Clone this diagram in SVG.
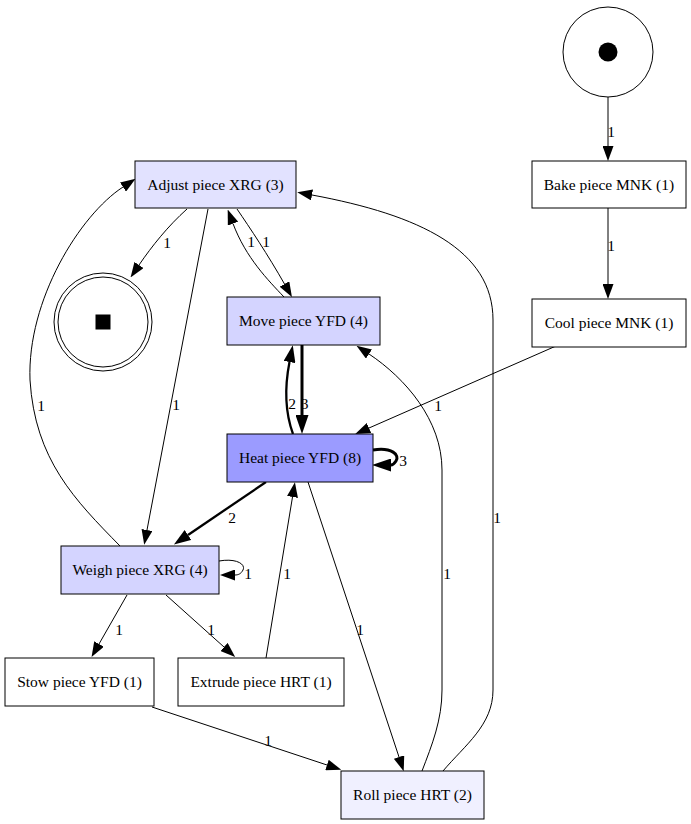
<svg xmlns="http://www.w3.org/2000/svg" width="691" height="824" viewBox="0 0 691 824">
  <style>
    text { font-family: "Liberation Serif", "Times New Roman", serif; font-size: 15.5px; fill: #000; }
    .node rect { stroke: #000; stroke-width: 1; }
    .node text { text-anchor: middle; }
    .edge path { fill: none; stroke: #000; stroke-width: 1; }
    .edge path.w2 { stroke-width: 2.3; }
    .edge path.w3 { stroke-width: 3; }
    .edge text { text-anchor: middle; }
    .place { fill: #fff; stroke: #000; stroke-width: 1; }
  </style>
  <defs>
    <marker id="arr" markerUnits="userSpaceOnUse" viewBox="0 0 15 11" markerWidth="15" markerHeight="11" refX="0" refY="5.5" orient="auto">
      <path d="M0,0 L15,5.5 L0,11 Z" fill="#000"/>
    </marker>
    <marker id="arr2" markerUnits="userSpaceOnUse" viewBox="0 0 17 12" markerWidth="17" markerHeight="12" refX="0" refY="6" orient="auto">
      <path d="M0,0 L17,6 L0,12 Z" fill="#000"/>
    </marker>
    <marker id="arr3" markerUnits="userSpaceOnUse" viewBox="0 0 19 13" markerWidth="19" markerHeight="13" refX="0" refY="6.5" orient="auto">
      <path d="M0,0 L19,6.5 L0,13 Z" fill="#000"/>
    </marker>
  </defs>

  <rect width="691" height="824" fill="#fff"/>

  <!-- connectors -->
  <g id="edges" class="edge">
    <path d="M608,97 L608,146" marker-end="url(#arr)"/>
    <text x="611" y="137">1</text>

    <path d="M608,208 L608,284" marker-end="url(#arr)"/>
    <text x="611" y="250.5">1</text>

    <path d="M556,346 L369,428" marker-end="url(#arr)"/>
    <text x="438" y="411">1</text>

    <path d="M187,209 C168,226 152,246 139,265" marker-end="url(#arr)"/>
    <text x="167" y="248">1</text>

    <path d="M208,209 L147,530" marker-end="url(#arr)"/>
    <text x="176" y="410">1</text>

    <path d="M237,209 C250,228 268,255 284.5,284" marker-end="url(#arr)"/>
    <text x="266" y="247">1</text>

    <path d="M284,297 C268,280 246,258 233,223.6" marker-end="url(#arr)"/>
    <text x="251" y="247">1</text>

    <path class="w3" d="M302,345 L302,415" marker-end="url(#arr3)"/>
    <text x="304.5" y="409">3</text>

    <path class="w2" d="M293,434 C285,412 285,385 289.5,362" marker-end="url(#arr2)"/>
    <text x="292" y="409">2</text>

    <path class="w3" d="M373,450 C392,447 400,455 396,461 C394,464 393,465 391,465" marker-end="url(#arr3)"/>
    <text x="403" y="466">3</text>

    <path class="w2" d="M266,482 L188,535" marker-end="url(#arr2)"/>
    <text x="232" y="522.5">2</text>

    <path d="M219,561 C236,558 246,564 243,570 C241,574 238,575 235,575" marker-end="url(#arr)"/>
    <text x="248" y="578.5">1</text>

    <path d="M120,546 C75,500 35,460 30,380 C27,300 80,215 123,187" marker-end="url(#arr)"/>
    <text x="41" y="410.5">1</text>

    <path d="M127,595 L99,644" marker-end="url(#arr)"/>
    <text x="119" y="634.5">1</text>

    <path d="M166,595 L224,647" marker-end="url(#arr)"/>
    <text x="211" y="634.5">1</text>

    <path d="M266,658 L292.5,497" marker-end="url(#arr)"/>
    <text x="287" y="578.5">1</text>

    <path d="M308,482 L399,757" marker-end="url(#arr)"/>
    <text x="360" y="634.5">1</text>

    <path d="M152,707 L327,765" marker-end="url(#arr)"/>
    <text x="268" y="745.5">1</text>

    <path d="M422,771 C432,745 442,720 442,690 L442,470 C442,420 405,378 369,354" marker-end="url(#arr)"/>
    <text x="447" y="578.5">1</text>

    <path d="M443,771 C465,745 493,725 493,690 L493,320 C493,250 420,215 312,195" marker-end="url(#arr)"/>
    <text x="497" y="522.5">1</text>
  </g>

  <!-- places -->
  <g id="source" class="node">
    <circle class="place" cx="608" cy="52" r="45"/>
    <circle cx="608" cy="52" r="9.5" fill="#000"/>
  </g>
  <g id="sink" class="node">
    <circle class="place" cx="103" cy="322" r="49"/>
    <circle class="place" cx="103" cy="322" r="45"/>
    <rect x="96" y="315" width="14" height="14" fill="#000" stroke="none"/>
  </g>

  <!-- transitions -->
  <g id="bake" class="node">
    <rect x="532" y="161" width="154" height="47" fill="#fff"/>
    <text x="609" y="190">Bake piece MNK (1)</text>
  </g>
  <g id="cool" class="node">
    <rect x="532" y="299" width="154" height="48" fill="#fff"/>
    <text x="609" y="328">Cool piece MNK (1)</text>
  </g>
  <g id="adjust" class="node">
    <rect x="135" y="161" width="161" height="47" fill="#E2E2FF"/>
    <text x="215.5" y="190">Adjust piece XRG (3)</text>
  </g>
  <g id="move" class="node">
    <rect x="227" y="297" width="153" height="48" fill="#D4D4FF"/>
    <text x="303.5" y="326">Move piece YFD (4)</text>
  </g>
  <g id="heat" class="node">
    <rect x="227" y="434" width="146" height="48" fill="#9B9BFF"/>
    <text x="300" y="463">Heat piece YFD (8)</text>
  </g>
  <g id="weigh" class="node">
    <rect x="61" y="546" width="158" height="48" fill="#D4D4FF"/>
    <text x="140" y="575">Weigh piece XRG (4)</text>
  </g>
  <g id="stow" class="node">
    <rect x="5" y="658" width="149" height="48" fill="#fff"/>
    <text x="79.5" y="687">Stow piece YFD (1)</text>
  </g>
  <g id="extrude" class="node">
    <rect x="178" y="658" width="166" height="48" fill="#fff"/>
    <text x="261" y="687">Extrude piece HRT (1)</text>
  </g>
  <g id="roll" class="node">
    <rect x="341" y="771" width="143" height="48" fill="#F0F0FF"/>
    <text x="412.5" y="800">Roll piece HRT (2)</text>
  </g>
</svg>
